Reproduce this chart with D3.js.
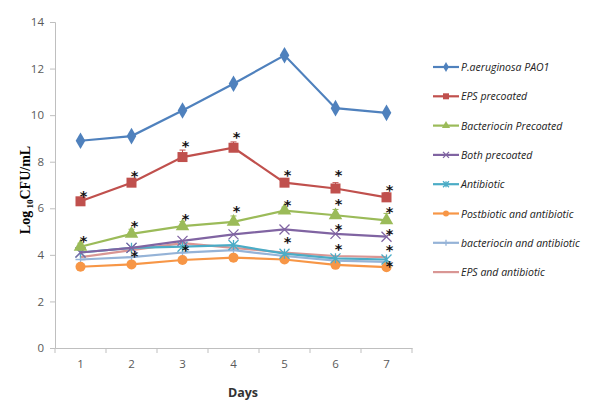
<!DOCTYPE html>
<html>
<head>
<meta charset="utf-8">
<script src="https://cdn.jsdelivr.net/npm/d3@7"></script>
<style>
  body { margin: 0; background: #fff; }
  svg { display: block; }
</style>
</head>
<body>
<div id="chart"></div>
<script>
// days on the x axis
const days = ['1', '2', '3', '4', '5', '6', '7'];
const yTicks = [0, 2, 4, 6, 8, 10, 12, 14];

// series values (log10 CFU/mL)
const pao1 = [8.9, 9.1, 10.2, 11.35, 12.57, 10.3, 10.1];
const epsPrecoated = [6.3, 7.1, 8.2, 8.6, 7.1, 6.85, 6.47];
const bacteriocinPrecoated = [4.35, 4.9, 5.23, 5.42, 5.9, 5.7, 5.48];
const bothPrecoated = [4.1, 4.3, 4.6, 4.88, 5.09, 4.9, 4.78];
const antibiotic = [4.1, 4.3, 4.35, 4.42, 4.05, 3.85, 3.8];
const postbioticAntibiotic = [3.49, 3.59, 3.78, 3.88, 3.8, 3.57, 3.47];
const bacteriocinAntibiotic = [3.8, 3.9, 4.1, 4.2, 3.95, 3.75, 3.7];
const epsAntibiotic = [3.9, 4.2, 4.5, 4.3, 4.1, 3.95, 3.9];

// upper error bars (only visible ones)
const epsErr = [0.15, 0.15, 0.3, 0.25, 0.1, 0.25, 0.2];
const bactErr = [0.15, 0.2, 0.2, 0.25, 0.15, 0.25, 0.3];

// significance asterisks: [day, y value]
const stars = [
    ['1', 6.65], ['1', 4.72],
    ['2', 7.5], ['2', 5.36], ['2', 4.08],
    ['3', 8.8], ['3', 5.67], ['3', 4.33],
    ['4', 9.2], ['4', 6.0],
    ['5', 7.57], ['5', 6.28], ['5', 4.68],
    ['6', 7.55], ['6', 6.3], ['6', 5.24], ['6', 4.38],
    ['7', 6.9], ['7', 5.97], ['7', 5.02], ['7', 4.33], ['7', 3.65]
];

const series = [
    { name: 'P.aeruginosa PAO1', values: pao1, color: '#4F81BD', marker: 'diamond' },
    { name: 'EPS precoated', values: epsPrecoated, color: '#C0504D', marker: 'square', err: epsErr },
    { name: 'Bacteriocin Precoated', values: bacteriocinPrecoated, color: '#9BBB59', marker: 'triangle', err: bactErr },
    { name: 'Both precoated', values: bothPrecoated, color: '#8064A2', marker: 'x' },
    { name: 'Antibiotic', values: antibiotic, color: '#4BACC6', marker: 'star' },
    { name: 'Postbiotic and antibiotic', values: postbioticAntibiotic, color: '#F79646', marker: 'circle' },
    { name: 'bacteriocin and antibiotic', values: bacteriocinAntibiotic, color: '#95B3D7', marker: 'plus' },
    { name: 'EPS and antibiotic', values: epsAntibiotic, color: '#D99694', marker: 'none' }
];

const W = 592, H = 402;
const margin = { top: 22, right: 180, bottom: 54, left: 55 };
const width = 357;
const height = 326;

const svg = d3.select('#chart').append('svg')
    .attr('width', W).attr('height', H);
const g = svg.append('g')
    .attr('transform', `translate(${margin.left},${margin.top})`);

const x = d3.scaleBand().domain(days).range([0, width]);
const y = d3.scaleLinear().domain([0, 14]).range([height, 0]);
const cx = d => x(d) + x.bandwidth() / 2;

// y axis
const yAxis = g.append('g')
    .call(d3.axisLeft(y).tickValues(yTicks).tickSize(5).tickPadding(6));
// x axis
const xAxis = g.append('g')
    .attr('transform', `translate(0,${height})`)
    .call(d3.axisBottom(x).tickSize(0).tickPadding(12));
// x tick marks between categories
xAxis.selectAll('.sep')
    .data(d3.range(days.length + 1))
    .enter().append('line')
    .attr('x1', i => i * x.step()).attr('x2', i => i * x.step())
    .attr('y1', 0).attr('y2', 5)
    .attr('stroke', '#BFBFBF');

[yAxis, xAxis].forEach(a => {
    a.select('.domain').attr('stroke', '#BFBFBF');
    a.selectAll('.tick line').attr('stroke', '#BFBFBF');
    a.selectAll('.tick text')
        .attr('fill', '#595959')
        .style('font-family', 'Open Sans, sans-serif')
        .style('font-size', '11.5px');
});

// axis titles
svg.append('text')
    .attr('x', 243).attr('y', 397)
    .attr('text-anchor', 'middle')
    .style('font-family', 'Open Sans, sans-serif')
    .style('font-weight', 'bold')
    .style('font-size', '12.5px')
    .attr('fill', '#333')
    .text('Days');

const yt = svg.append('text')
    .attr('transform', 'translate(30,190) rotate(-90)')
    .attr('text-anchor', 'middle')
    .style('font-family', 'Liberation Serif, Times New Roman, serif')
    .style('font-weight', 'bold')
    .style('font-size', '14px')
    .attr('fill', '#000');
yt.append('tspan').text('Log');
yt.append('tspan').attr('dy', 3).style('font-size', '9px').text(' 10');
yt.append('tspan').attr('dy', -3).text('CFU/mL');

// marker drawer
function drawMarker(sel, type, color, s) {
    if (type === 'diamond') {
        sel.append('path').attr('d', d3.symbol(d3.symbolDiamond, s * s * 0.8)())
            .attr('fill', color);
    } else if (type === 'square') {
        sel.append('rect').attr('x', -s / 2).attr('y', -s / 2)
            .attr('width', s).attr('height', s).attr('fill', color);
    } else if (type === 'triangle') {
        sel.append('path').attr('d', d3.symbol(d3.symbolTriangle, s * s * 0.8)())
            .attr('fill', color);
    } else if (type === 'circle') {
        sel.append('circle').attr('r', s / 2).attr('fill', color);
    } else if (type === 'x') {
        sel.append('path').attr('d', `M${-s / 2},${-s / 2}L${s / 2},${s / 2}M${-s / 2},${s / 2}L${s / 2},${-s / 2}`)
            .attr('stroke', color).attr('stroke-width', 1.3).attr('fill', 'none');
    } else if (type === 'star') {
        sel.append('path').attr('d', `M${-s / 2},${-s / 2}L${s / 2},${s / 2}M${-s / 2},${s / 2}L${s / 2},${-s / 2}M0,${-s / 2}L0,${s / 2}`)
            .attr('stroke', color).attr('stroke-width', 1.3).attr('fill', 'none');
    } else if (type === 'plus') {
        sel.append('path').attr('d', `M${-s / 2},0L${s / 2},0M0,${-s / 2}L0,${s / 2}`)
            .attr('stroke', color).attr('stroke-width', 1.3).attr('fill', 'none');
    }
}

const line = d3.line()
    .x((d, i) => cx(days[i]))
    .y(d => y(d));

// draw series in reverse so the first sits on top
series.slice().reverse().forEach(s => {
    const sg = g.append('g');
    if (s.err) {
        sg.selectAll('.err').data(s.values).enter().append('path')
            .attr('d', (d, i) => {
                const px = cx(days[i]), y0 = y(d), y1 = y(d + s.err[i]);
                return `M${px},${y0}L${px},${y1}M${px - 3},${y1}L${px + 3},${y1}`;
            })
            .attr('stroke', s.color).attr('stroke-width', 1).attr('fill', 'none');
    }
    sg.append('path').datum(s.values)
        .attr('d', line)
        .attr('fill', 'none')
        .attr('stroke', s.color)
        .attr('stroke-width', 2.2);
    s.values.forEach((v, i) => {
        const m = sg.append('g').attr('transform', `translate(${cx(days[i])},${y(v)})`);
        drawMarker(m, s.marker, s.color, 10);
    });
});

// asterisks
g.selectAll('.star').data(stars).enter().append('text')
    .attr('x', d => cx(d[0]) + 3)
    .attr('y', d => y(d[1]) + 8)
    .attr('text-anchor', 'middle')
    .style('font-family', 'DejaVu Sans, sans-serif')
    .style('font-weight', 'bold')
    .style('font-size', '14.5px')
    .attr('fill', '#111')
    .text('*');

// legend
const legend = svg.append('g').attr('transform', 'translate(433,67)');
series.forEach((s, i) => {
    const row = legend.append('g').attr('transform', `translate(0,${i * 29.3})`);
    row.append('line').attr('x1', 0).attr('x2', 26).attr('y1', 0).attr('y2', 0)
        .attr('stroke', s.color).attr('stroke-width', 2.2);
    const m = row.append('g').attr('transform', 'translate(13,0)');
    drawMarker(m, s.marker, s.color, 6);
    row.append('text').attr('x', 28).attr('y', 4)
        .style('font-family', 'Open Sans, sans-serif')
        .style('font-style', 'italic')
        .style('font-size', '10.5px')
        .attr('fill', '#222')
        .text(s.name);
});
</script>
</body>
</html>
